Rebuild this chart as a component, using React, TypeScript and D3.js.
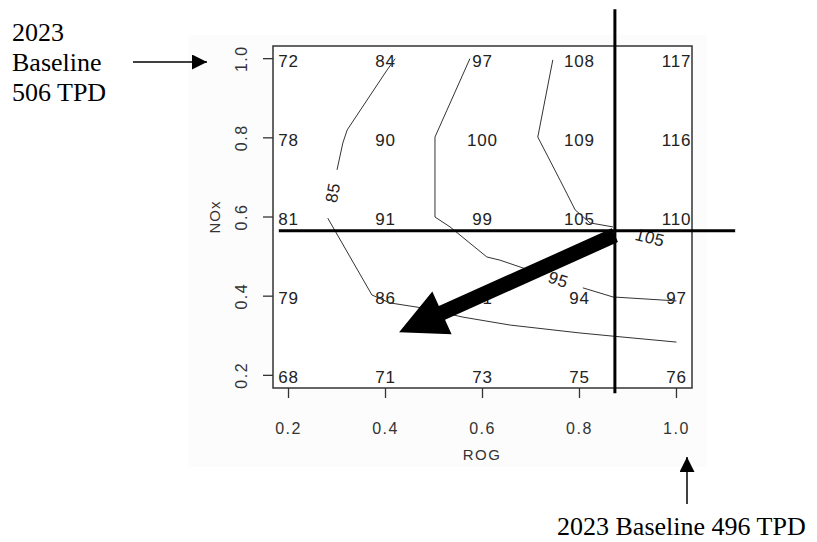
import React from "react";
import * as d3 from "d3";

// ---- data ----
const rogTicks = [0.2, 0.4, 0.6, 0.8, 1.0];
const noxTicks = [0.2, 0.4, 0.6, 0.8, 1.0];
const tickLabels = ["0.2", "0.4", "0.6", "0.8", "1.0"];

// ozone values by NOx row (columns follow rogTicks)
const noxLevels = [1.0, 0.8, 0.6, 0.4, 0.2];
const row10 = [72, 84, 97, 108, 117];
const row08 = [78, 90, 100, 109, 116];
const row06 = [81, 91, 99, 105, 110];
const row04 = [79, 86, 91, 94, 97];
const row02 = [68, 71, 73, 75, 76];
const rows = [row10, row08, row06, row04, row02];

// contour lines as [ROG, NOx]
const contour85a: [number, number][] = [
  [0.42, 1.0], [0.403, 0.971], [0.321, 0.82], [0.312, 0.787], [0.3, 0.719],
];
const contour85b: [number, number][] = [
  [0.281, 0.597], [0.372, 0.403], [0.409, 0.383], [0.477, 0.37], [0.56, 0.347],
  [0.657, 0.327], [0.801, 0.307], [0.869, 0.299], [1.0, 0.284],
];
const contour95a: [number, number][] = [
  [0.574, 1.0], [0.502, 0.802], [0.502, 0.6], [0.533, 0.575], [0.609, 0.499],
  [0.636, 0.491], [0.708, 0.461],
];
const contour95b: [number, number][] = [
  [0.807, 0.421], [0.869, 0.398], [1.0, 0.388],
];
const contour105: [number, number][] = [
  [0.745, 0.997], [0.714, 0.802], [0.76, 0.693], [0.791, 0.618], [0.822, 0.585],
  [0.869, 0.575],
];
const contourLines = [contour85a, contour85b, contour95a, contour95b, contour105];
const contourLabelText = ["85", "95", "105"];
const contourLabelRog = [0.292, 0.756, 0.945];
const contourLabelNox = [0.661, 0.441, 0.547];
const contourLabelAngle = [-80, 18, 14];

// 2023 baseline reference and reduction arrow
const baselineRog = 0.873;
const baselineNox = 0.565;
const arrowStart: [number, number] = [0.873, 0.554];
const arrowTip: [number, number] = [0.428, 0.309];

// ---- layout ----
const W = 817;
const H = 542;
const box = { left: 273, right: 692, top: 46, bottom: 388 };
const domain: [number, number] = [0.168, 1.032];

const x = d3.scaleLinear().domain(domain).range([box.left, box.right]);
const y = d3.scaleLinear().domain(domain).range([box.bottom, box.top]);

const line = d3
  .line<[number, number]>()
  .x((d) => x(d[0]))
  .y((d) => y(d[1]));

const plotFont = "'Liberation Sans', Arial, sans-serif";
const serif = "'Liberation Serif', 'Times New Roman', serif";

function arrowPolygon(
  s: [number, number],
  t: [number, number],
  shaftHalf: number,
  headHalf: number,
  headLen: number
) {
  const dx = t[0] - s[0];
  const dy = t[1] - s[1];
  const len = Math.hypot(dx, dy);
  const ux = dx / len;
  const uy = dy / len;
  const nx = -uy;
  const ny = ux;
  const bx = t[0] - ux * headLen;
  const by = t[1] - uy * headLen;
  const pts = [
    [s[0] + nx * shaftHalf, s[1] + ny * shaftHalf],
    [bx + nx * shaftHalf, by + ny * shaftHalf],
    [bx + nx * headHalf, by + ny * headHalf],
    [t[0], t[1]],
    [bx - nx * headHalf, by - ny * headHalf],
    [bx - nx * shaftHalf, by - ny * shaftHalf],
    [s[0] - nx * shaftHalf, s[1] - ny * shaftHalf],
  ];
  return pts.map((p) => p.join(",")).join(" ");
}

export default function App() {
  const s: [number, number] = [x(arrowStart[0]), y(arrowStart[1])];
  const t: [number, number] = [x(arrowTip[0]), y(arrowTip[1])];
  const bx = x(baselineRog);
  const by = y(baselineNox);
  return (
    <svg
      width={W}
      height={H}
      style={{ position: "absolute", left: 0, top: 0, background: "#fff" }}
    >
      <defs>
        <marker
          id="ah"
          viewBox="0 0 10 10"
          refX="10"
          refY="5"
          markerWidth="15"
          markerHeight="15"
          markerUnits="userSpaceOnUse"
          orient="auto"
        >
          <path d="M0,0 L10,5 L0,10 z" fill="#000" />
        </marker>
      </defs>
      <rect x={188} y={35} width={519} height={432} fill="#fcfcfc" />

      {/* plot box */}
      <rect
        x={box.left}
        y={box.top}
        width={box.right - box.left}
        height={box.bottom - box.top}
        fill="#fff"
        stroke="#333"
        strokeWidth={1.5}
      />

      {/* x axis */}
      {rogTicks.map((v, i) => (
        <g key={"xt" + i}>
          <line x1={x(v)} x2={x(v)} y1={box.bottom} y2={box.bottom + 10} stroke="#333" strokeWidth={1.3} />
          <text
            x={x(v)}
            y={434}
            textAnchor="middle"
            fontFamily={plotFont}
            fontSize={16}
            letterSpacing={1.5}
            fill="#333"
          >
            {tickLabels[i]}
          </text>
        </g>
      ))}
      <text x={482} y={460} textAnchor="middle" fontFamily={plotFont} fontSize={15} letterSpacing={1.5} fill="#333">
        ROG
      </text>

      {/* y axis */}
      {noxTicks.map((v, i) => (
        <g key={"yt" + i}>
          <line x1={box.left} x2={box.left - 10} y1={y(v)} y2={y(v)} stroke="#333" strokeWidth={1.3} />
          <text
            transform={`translate(${247},${y(v)}) rotate(-90)`}
            textAnchor="middle"
            fontFamily={plotFont}
            fontSize={16}
            letterSpacing={1.5}
            fill="#333"
          >
            {tickLabels[i]}
          </text>
        </g>
      ))}
      <text
        transform={`translate(${220},${(box.top + box.bottom) / 2}) rotate(-90)`}
        textAnchor="middle"
        fontFamily={plotFont}
        fontSize={15}
        letterSpacing={1}
        fill="#333"
      >
        NOx
      </text>

      {/* cell values */}
      {rows.map((row, ri) =>
        row.map((val, ci) => (
          <text
            key={`c${ri}-${ci}`}
            x={x(rogTicks[ci])}
            y={y(noxLevels[ri]) + 8}
            textAnchor="middle"
            fontFamily={plotFont}
            fontSize={17}
            letterSpacing={0.8}
            fill="#222"
          >
            {val}
          </text>
        ))
      )}

      {/* contours */}
      {contourLines.map((c, i) => (
        <path key={"cl" + i} d={line(c) || ""} fill="none" stroke="#333" strokeWidth={1} />
      ))}
      {contourLabelText.map((lbl, i) => (
        <text
          key={"lb" + i}
          transform={`translate(${x(contourLabelRog[i])},${y(contourLabelNox[i])}) rotate(${contourLabelAngle[i]})`}
          textAnchor="middle"
          dominantBaseline="central"
          fontFamily={plotFont}
          fontSize={17}
          letterSpacing={0.5}
          fill="#222"
        >
          {lbl}
        </text>
      ))}

      {/* baseline reference lines */}
      <line x1={bx} x2={bx} y1={y(1.125)} y2={y(0.155)} stroke="#000" strokeWidth={3} />
      <line x1={x(0.18)} x2={x(1.121)} y1={by} y2={by} stroke="#000" strokeWidth={3} />

      {/* reduction arrow */}
      <polygon points={arrowPolygon(s, t, 7.5, 23.5, 47)} fill="#000" />

      {/* annotations */}
      <text fontFamily={serif} fontSize={26} fill="#000">
        <tspan x={12} y={41}>2023</tspan>
        <tspan x={12} y={71}>Baseline</tspan>
        <tspan x={12} y={101}>506 TPD</tspan>
      </text>
      <line x1={133} x2={207} y1={62} y2={62} stroke="#000" strokeWidth={1.5} markerEnd="url(#ah)" />

      <line x1={687} x2={687} y1={504} y2={457} stroke="#000" strokeWidth={1.5} markerEnd="url(#ah)" />
      <text x={557} y={535} fontFamily={serif} fontSize={26} fill="#000">
        2023 Baseline 496 TPD
      </text>
    </svg>
  );
}
